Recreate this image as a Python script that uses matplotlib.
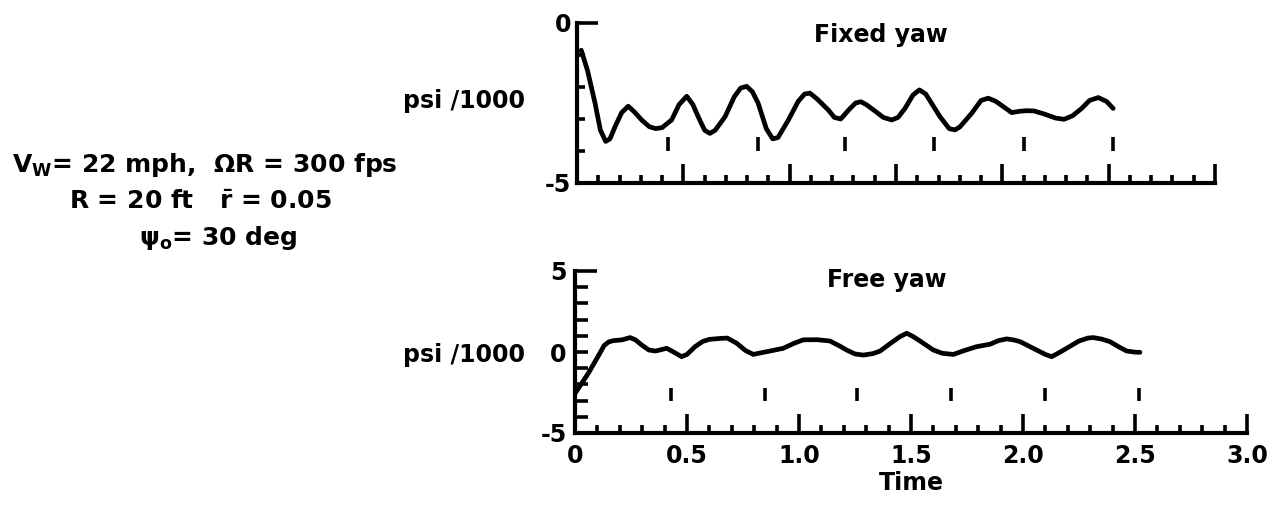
import matplotlib
matplotlib.use("Agg")
import matplotlib.pyplot as plt
from matplotlib.ticker import MultipleLocator

plt.rcParams['font.family'] = ['DejaVu Sans']
plt.rcParams['font.weight'] = 'bold'
plt.rcParams['mathtext.fontset'] = 'dejavusans'
plt.rcParams['mathtext.default'] = 'bf'

# fixed yaw trace (time, psi/1000)
fixed_t = [0.02, 0.05, 0.085, 0.11, 0.135, 0.155, 0.179, 0.21, 0.241, 0.27,
           0.304, 0.34, 0.37, 0.40, 0.445, 0.48, 0.516, 0.545, 0.570, 0.60,
           0.625, 0.65, 0.696, 0.74, 0.77, 0.798, 0.825, 0.852, 0.89, 0.92,
           0.945, 0.994, 1.04, 1.07, 1.095, 1.13, 1.182, 1.21, 1.24, 1.28,
           1.31, 1.335, 1.36, 1.401, 1.44, 1.48, 1.51, 1.542, 1.58, 1.61,
           1.64, 1.707, 1.75, 1.777, 1.80, 1.856, 1.90, 1.934, 1.97, 2.044,
           2.08, 2.114, 2.15, 2.20, 2.25, 2.29, 2.33, 2.373, 2.41, 2.451,
           2.49, 2.521]
fixed_y = [-0.85, -1.5, -2.51, -3.35, -3.70, -3.62, -3.24, -2.80, -2.60, -2.78,
           -3.03, -3.24, -3.30, -3.27, -3.03, -2.55, -2.29, -2.55, -2.93, -3.35,
           -3.45, -3.35, -2.93, -2.30, -2.03, -1.98, -2.15, -2.51, -3.30, -3.62,
           -3.58, -3.03, -2.45, -2.22, -2.19, -2.38, -2.72, -2.95, -3.00, -2.70,
           -2.50, -2.46, -2.55, -2.75, -2.95, -3.03, -2.95, -2.67, -2.25, -2.09,
           -2.22, -2.93, -3.30, -3.34, -3.25, -2.82, -2.42, -2.35, -2.45, -2.80,
           -2.76, -2.74, -2.75, -2.85, -2.97, -3.01, -2.90, -2.67, -2.42, -2.33,
           -2.45, -2.67]

# free yaw trace
free_t = [0.0, 0.06, 0.112, 0.13, 0.15, 0.171, 0.21, 0.246, 0.27, 0.298,
          0.33, 0.36, 0.409, 0.44, 0.476, 0.50, 0.536, 0.57, 0.60, 0.65,
          0.68, 0.722, 0.76, 0.796, 0.83, 0.871, 0.93, 0.98, 1.019, 1.08,
          1.138, 1.18, 1.213, 1.25, 1.287, 1.33, 1.362, 1.41, 1.451, 1.481,
          1.51, 1.54, 1.6, 1.64, 1.689, 1.74, 1.793, 1.853, 1.89, 1.927,
          1.96, 1.987, 2.061, 2.10, 2.128, 2.16, 2.195, 2.25, 2.29, 2.314,
          2.35, 2.388, 2.43, 2.463, 2.50, 2.522]
free_y = [-2.56, -1.3, -0.05, 0.40, 0.62, 0.70, 0.75, 0.89, 0.75, 0.43,
          0.12, 0.06, 0.23, 0.0, -0.29, -0.15, 0.33, 0.65, 0.78, 0.84,
          0.86, 0.54, 0.10, -0.15, -0.05, 0.06, 0.23, 0.55, 0.75, 0.76,
          0.68, 0.38, 0.12, -0.12, -0.19, -0.10, 0.06, 0.55, 0.95, 1.16,
          0.95, 0.68, 0.12, -0.08, -0.15, 0.10, 0.33, 0.48, 0.70, 0.81,
          0.74, 0.64, 0.12, -0.15, -0.29, -0.05, 0.23, 0.68, 0.86, 0.89,
          0.80, 0.64, 0.30, 0.06, -0.01, -0.02]

# once-per-revolution markers
rev_t = [0.43, 0.85, 1.26, 1.68, 2.10, 2.52]
fixed_rev = (-3.55, -4.0)
free_rev = (-2.2, -3.05)

xticks = [0, 0.5, 1.0, 1.5, 2.0, 2.5, 3.0]
xlabels = ['0', '0.5', '1.0', '1.5', '2.0', '2.5', '3.0']

W, H = 1269, 508
fig = plt.figure(figsize=(W / 100, H / 100), dpi=100)

ax1 = fig.add_axes([577 / W, 1 - 183 / H, 638 / W, 160 / H])
ax2 = fig.add_axes([575 / W, 1 - 433 / H, 672 / W, 162 / H])

lw = 3.4
for ax in (ax1, ax2):
    ax.spines['top'].set_visible(False)
    ax.spines['right'].set_visible(False)
    ax.spines['left'].set_linewidth(3)
    ax.spines['bottom'].set_linewidth(3)
    ax.set_xlim(0, 3.0)
    ax.set_xticks(xticks)
    ax.xaxis.set_minor_locator(MultipleLocator(0.1))
    ax.tick_params(axis='x', which='major', direction='in', length=14, width=2.6)
    ax.tick_params(axis='x', which='minor', direction='in', length=6, width=2.6)
    ax.tick_params(axis='y', which='both', direction='in', width=2.6)
    ax.tick_params(labelsize=17)

ax1.plot(fixed_t, fixed_y, color='black', lw=lw, solid_joinstyle='round',
         solid_capstyle='round')
ax1.vlines(rev_t, fixed_rev[0], fixed_rev[1], color='black', lw=2.6)
ax1.set_ylim(-5, 0)
ax1.set_yticks([-5, -4, -3, -2, -1, 0])
ax1.set_yticklabels(['-5', '', '', '', '', '0'])
ax1.tick_params(axis='y', length=6, pad=4)
ax1.set_xticklabels([])
ax1.yaxis.get_major_ticks()[-1].tick1line.set_markersize(15)
ax1.text(0.476, 0.925, 'Fixed yaw', transform=ax1.transAxes, ha='center',
         va='center', fontsize=17, fontweight='bold')

ax2.plot(free_t, free_y, color='black', lw=lw, solid_joinstyle='round',
         solid_capstyle='round')
ax2.vlines(rev_t, free_rev[0], free_rev[1], color='black', lw=2.6)
ax2.set_ylim(-5, 5)
ax2.set_yticks(range(-5, 6))
ax2.set_yticklabels(['-5', '', '', '', '', '0', '', '', '', '', '5'])
ax2.tick_params(axis='y', length=9, pad=6)
ax2.yaxis.get_major_ticks()[-1].tick1line.set_markersize(16)
ax2.set_xticklabels(xlabels)
ax2.tick_params(axis='x', pad=8)
ax2.set_xlabel('Time', fontsize=17, fontweight='bold', labelpad=2)
ax2.text(0.464, 0.944, 'Free yaw', transform=ax2.transAxes, ha='center',
         va='center', fontsize=17, fontweight='bold')

fig.text(525 / W, 1 - 101 / H, 'psi /1000', ha='right', va='center', fontsize=17)
fig.text(525 / W, 1 - 355 / H, 'psi /1000', ha='right', va='center', fontsize=17)

fig.text(205 / W, 1 - 165 / H, r'V$_W$= 22 mph,  $\Omega$R = 300 fps',
         ha='center', va='center', fontsize=18)
fig.text(200 / W, 1 - 202 / H, r'R = 20 ft   $\bar{r}$ = 0.05',
         ha='center', va='center', fontsize=18)
fig.text(218 / W, 1 - 238 / H, r'$\psi_o$= 30 deg',
         ha='center', va='center', fontsize=18)

fig.savefig('out.png', dpi=100)
